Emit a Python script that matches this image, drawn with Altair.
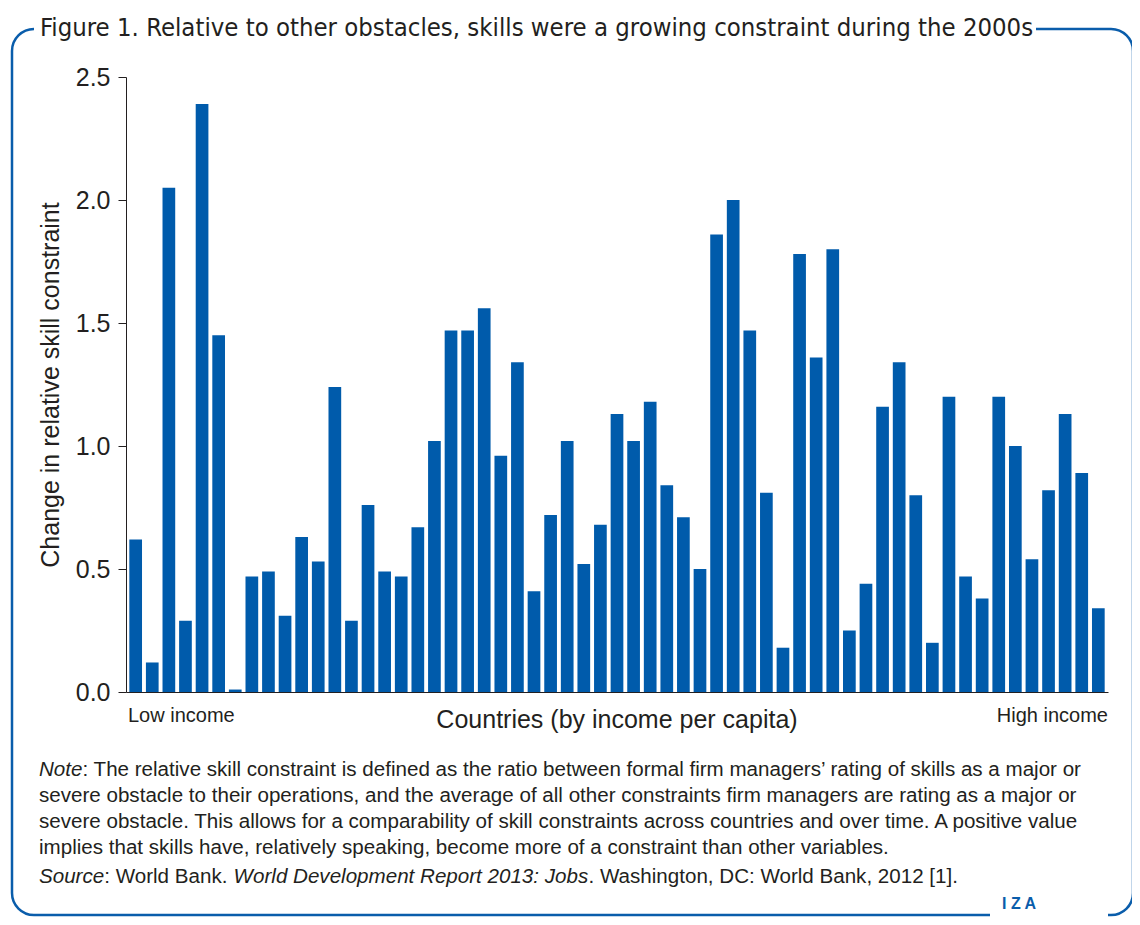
import altair as alt
import pandas as pd

# ---- data ----
values = [0.62, 0.12, 2.05, 0.29, 2.39, 1.45, 0.01, 0.47, 0.49, 0.31,
          0.63, 0.53, 1.24, 0.29, 0.76, 0.49, 0.47, 0.67, 1.02, 1.47,
          1.47, 1.56, 0.96, 1.34, 0.41, 0.72, 1.02, 0.52, 0.68, 1.13,
          1.02, 1.18, 0.84, 0.71, 0.50, 1.86, 2.00, 1.47, 0.81, 0.18,
          1.78, 1.36, 1.80, 0.25, 0.44, 1.16, 1.34, 0.80, 0.20, 1.20,
          0.47, 0.38, 1.20, 1.00, 0.54, 0.82, 1.13, 0.89, 0.34]
countries = list(range(1, len(values) + 1))
y_ticks = [0.0, 0.5, 1.0, 1.5, 2.0, 2.5]

title_text = "Figure 1. Relative to other obstacles, skills were a growing constraint during the 2000s"
y_title = "Change in relative skill constraint"
x_title = "Countries (by income per capita)"
low_label = "Low income"
high_label = "High income"
note_line1_rest = ": The relative skill constraint is defined as the ratio between formal firm managers\u2019 rating of skills as a major or"
note_lines = [
    "severe obstacle to their operations, and the average of all other constraints firm managers are rating as a major or",
    "severe obstacle. This allows for a comparability of skill constraints across countries and over time. A positive value",
    "implies that skills have, relatively speaking, become more of a constraint than other variables.",
]
src_parts = [("Source", True), (": World Bank.", False), (" ", False),
             ("World Development Report 2013: Jobs", True),
             (". Washington, DC: World Bank, 2012 [1].", False)]

# ---- text width helper (Arial / Liberation Sans metrics) ----
_w = {}
for chars, w in [(" !,./:;[]ftI", 278), ("'", 191), ("\u2019ijl", 222), ("()-r", 333),
                 ("0123456789abdeghnopquL", 556), ("cksvxyzJ", 500), ("mM", 833),
                 ("wCDHNRU", 722), ("ABEKPSVXY", 667), ("FTZ", 611), ("GOQ", 778), ("W", 944)]:
    for c in chars:
        _w[c] = w


def em(s):
    return sum(_w.get(c, 556) for c in s) / 1000.0


BLUE = "#005bab"
INK = "#231f20"
FONT = "Liberation Sans"
CONDENSED = "DejaVu Sans Condensed, Liberation Sans"

PLOT_W, PLOT_H = 982, 615
X0 = -87          # text left edge relative to plot origin

note_size = 1044 / em("Note" + note_line1_rest)
title_size = 993 / (em(title_text) * 1.022)

df = pd.DataFrame({"country": countries, "value": values})
one = pd.DataFrame({"k": [0]})

border = alt.Chart(one).mark_rect(
    fill="white", fillOpacity=0, stroke="#0a5dab", strokeWidth=2.5, cornerRadius=22
).encode(x=alt.value(-114), x2=alt.value(1007), y=alt.value(-48), y2=alt.value(838))

bars = alt.Chart(df).mark_bar(color=BLUE).encode(
    x=alt.X("country:O",
            scale=alt.Scale(paddingInner=0.235, paddingOuter=0.2),
            axis=alt.Axis(labels=False, ticks=False, title=None, grid=False,
                          domainColor=INK, domainWidth=1, zindex=2)),
    y=alt.Y("value:Q",
            scale=alt.Scale(domain=[0, 2.5], nice=False, zero=True),
            axis=alt.Axis(values=y_ticks, format=".1f", title=y_title, grid=False,
                          domainColor=INK, tickColor=INK, tickSize=8, labelPadding=8,
                          labelFont=FONT, labelFontSize=25, labelColor=INK,
                          titleFont=FONT, titleFontSize=25, titleFontWeight="normal",
                          titleColor=INK, titlePadding=12, zindex=2)),
)

cover_title = alt.Chart(one).mark_rect(fill="white").encode(
    x=alt.value(-92), x2=alt.value(910), y=alt.value(-60), y2=alt.value(-38))
cover_logo = alt.Chart(one).mark_rect(fill="white").encode(
    x=alt.value(864), x2=alt.value(982), y=alt.value(832), y2=alt.value(845))


def txt(text, x, y, size, align="left", baseline="alphabetic", font=FONT,
        italic=False, color=INK, weight="normal"):
    kw = dict(text=text, align=align, baseline=baseline, font=font,
              fontSize=size, color=color, fontWeight=weight)
    if italic:
        kw["fontStyle"] = "italic"
    return alt.Chart(one).mark_text(**kw).encode(x=alt.value(x), y=alt.value(y))


layers = [border, bars, cover_title, cover_logo]
layers.append(txt(title_text, -86, -49, title_size, baseline="middle", font=CONDENSED))
layers.append(txt(low_label, 2, 645, 20))
layers.append(txt(high_label, PLOT_W, 645, 20, align="right"))
layers.append(txt(x_title, PLOT_W / 2, 651, 25, align="center"))

# note
yb = [699, 725, 751, 777]
layers.append(txt("Note", X0, yb[0], note_size, italic=True))
layers.append(txt(note_line1_rest, X0 + em("Note") * note_size, yb[0], note_size))
for line, y in zip(note_lines, yb[1:]):
    layers.append(txt(line, X0, y, note_size))

# source line, mixed italic
xpos = X0
for part, it in src_parts:
    if part.strip():
        layers.append(txt(part, xpos, 806, note_size, italic=it))
    xpos += em(part) * note_size

# IZA logo
layers.append(txt("I  Z  A", 876, 832, 16, font=FONT, color="#0a5dab", weight="bold"))

chart = alt.layer(*layers).properties(
    width=PLOT_W, height=PLOT_H,
    autosize=alt.AutoSizeParams(type="none"),
    padding={"left": 118, "top": 69, "right": 24, "bottom": 225},
    background="white",
).configure_view(stroke=None)

chart.save("out.html", embed_options={"renderer": "svg", "actions": False})
